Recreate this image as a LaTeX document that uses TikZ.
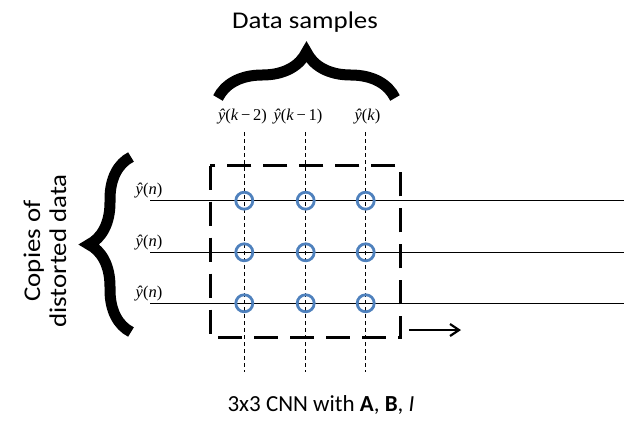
\documentclass[tikz,border=0pt]{standalone}
\usepackage{fontspec}
\setmainfont{Carlito}
\newfontfamily\widefont[FakeStretch=1.12]{Carlito}
\newfontfamily\tmsfont{Liberation Serif}
\usetikzlibrary{decorations.pathreplacing,arrows.meta}
\definecolor{obl}{RGB}{79,129,189}
\newcommand{\yh}{\textit{ŷ}}
\begin{document}
\begin{tikzpicture}[x=1pt,y=-1pt,
  sig/.style={line width=1.2pt,black},
  col/.style={dash pattern=on 4pt off 3pt,line width=0.9pt},
  win/.style={line width=3pt,dash pattern=on 24pt off 12pt},
  tap/.style={circle,draw=obl,line width=2.8pt,minimum size=17pt,inner sep=0pt},
  bigbrace/.style={decorate,line width=11pt},
  lbl/.style={font=\widefont\fontsize{24}{28}\selectfont},
  mlbl/.style={font=\tmsfont\fontsize{16.5}{18}\selectfont,inner sep=0pt}]
\useasboundingbox (0,0) rectangle (635,421);
% columns
\foreach \c/\x in {1/244.3,2/305.7,3/365.7}{
  \coordinate (ct\c) at (\x,132);
  \coordinate (cb\c) at (\x,372);
  \draw[col] (ct\c) -- (cb\c);
}
% rows
\foreach \r/\y in {1/200.7,2/252.3,3/303.3}{
  \coordinate (rl\r) at (150,\y);
  \coordinate (rr\r) at (624,\y);
  \draw[sig] (rl\r) -- (rr\r);
  \node[mlbl] (yn\r) at (149,\y-10) {\yh(\textit{n})};
}
% window
\coordinate (w1) at (210,165.7);
\coordinate (w2) at (400.7,337.7);
\draw[win] (w1) rectangle (w2);
% taps
\foreach \r/\y in {1/200.7,2/252.3,3/303.3}{
  \foreach \c/\x in {1/244.3,2/305.7,3/365.7}{
    \node[tap] (t\r\c) at (\x,\y) {};
  }
}
% arrow
\coordinate (a1) at (409,330);
\coordinate (a2) at (461,330);
\draw[line width=2.6pt,-{Straight Barb[length=9pt,width=12pt,line width=2.2pt]}] (a1) -- (a2);
% column labels
\node[mlbl] (k2) at (242.5,117) {\yh(\textit{k}\,−\,2)};
\node[mlbl] (k1) at (298,117) {\yh(\textit{k}\,−\,1)};
\node[mlbl] (k0) at (367.5,117) {\yh(\textit{k})};
% braces
\coordinate (tb1) at (218,98);
\coordinate (tb2) at (395,98);
\draw[bigbrace,decoration={brace,amplitude=46pt,aspect=0.5}] (tb1) -- (tb2);
\coordinate (lb1) at (131,332);
\coordinate (lb2) at (131,157);
\draw[bigbrace,decoration={brace,amplitude=42pt,aspect=0.5}] (lb1) -- (lb2);
% texts
\node[lbl] (ds) at (305,22) {Data samples};
\node[lbl,rotate=90,align=center] (cp) at (45,251) {Copies of\\[-2pt]distorted data};
\node[lbl,font=\fontsize{23}{26}\selectfont] (cnn) at (321,405) {3x3 CNN with \textbf{A}, \textbf{B}, \textit{I}};
\end{tikzpicture}
\end{document}
